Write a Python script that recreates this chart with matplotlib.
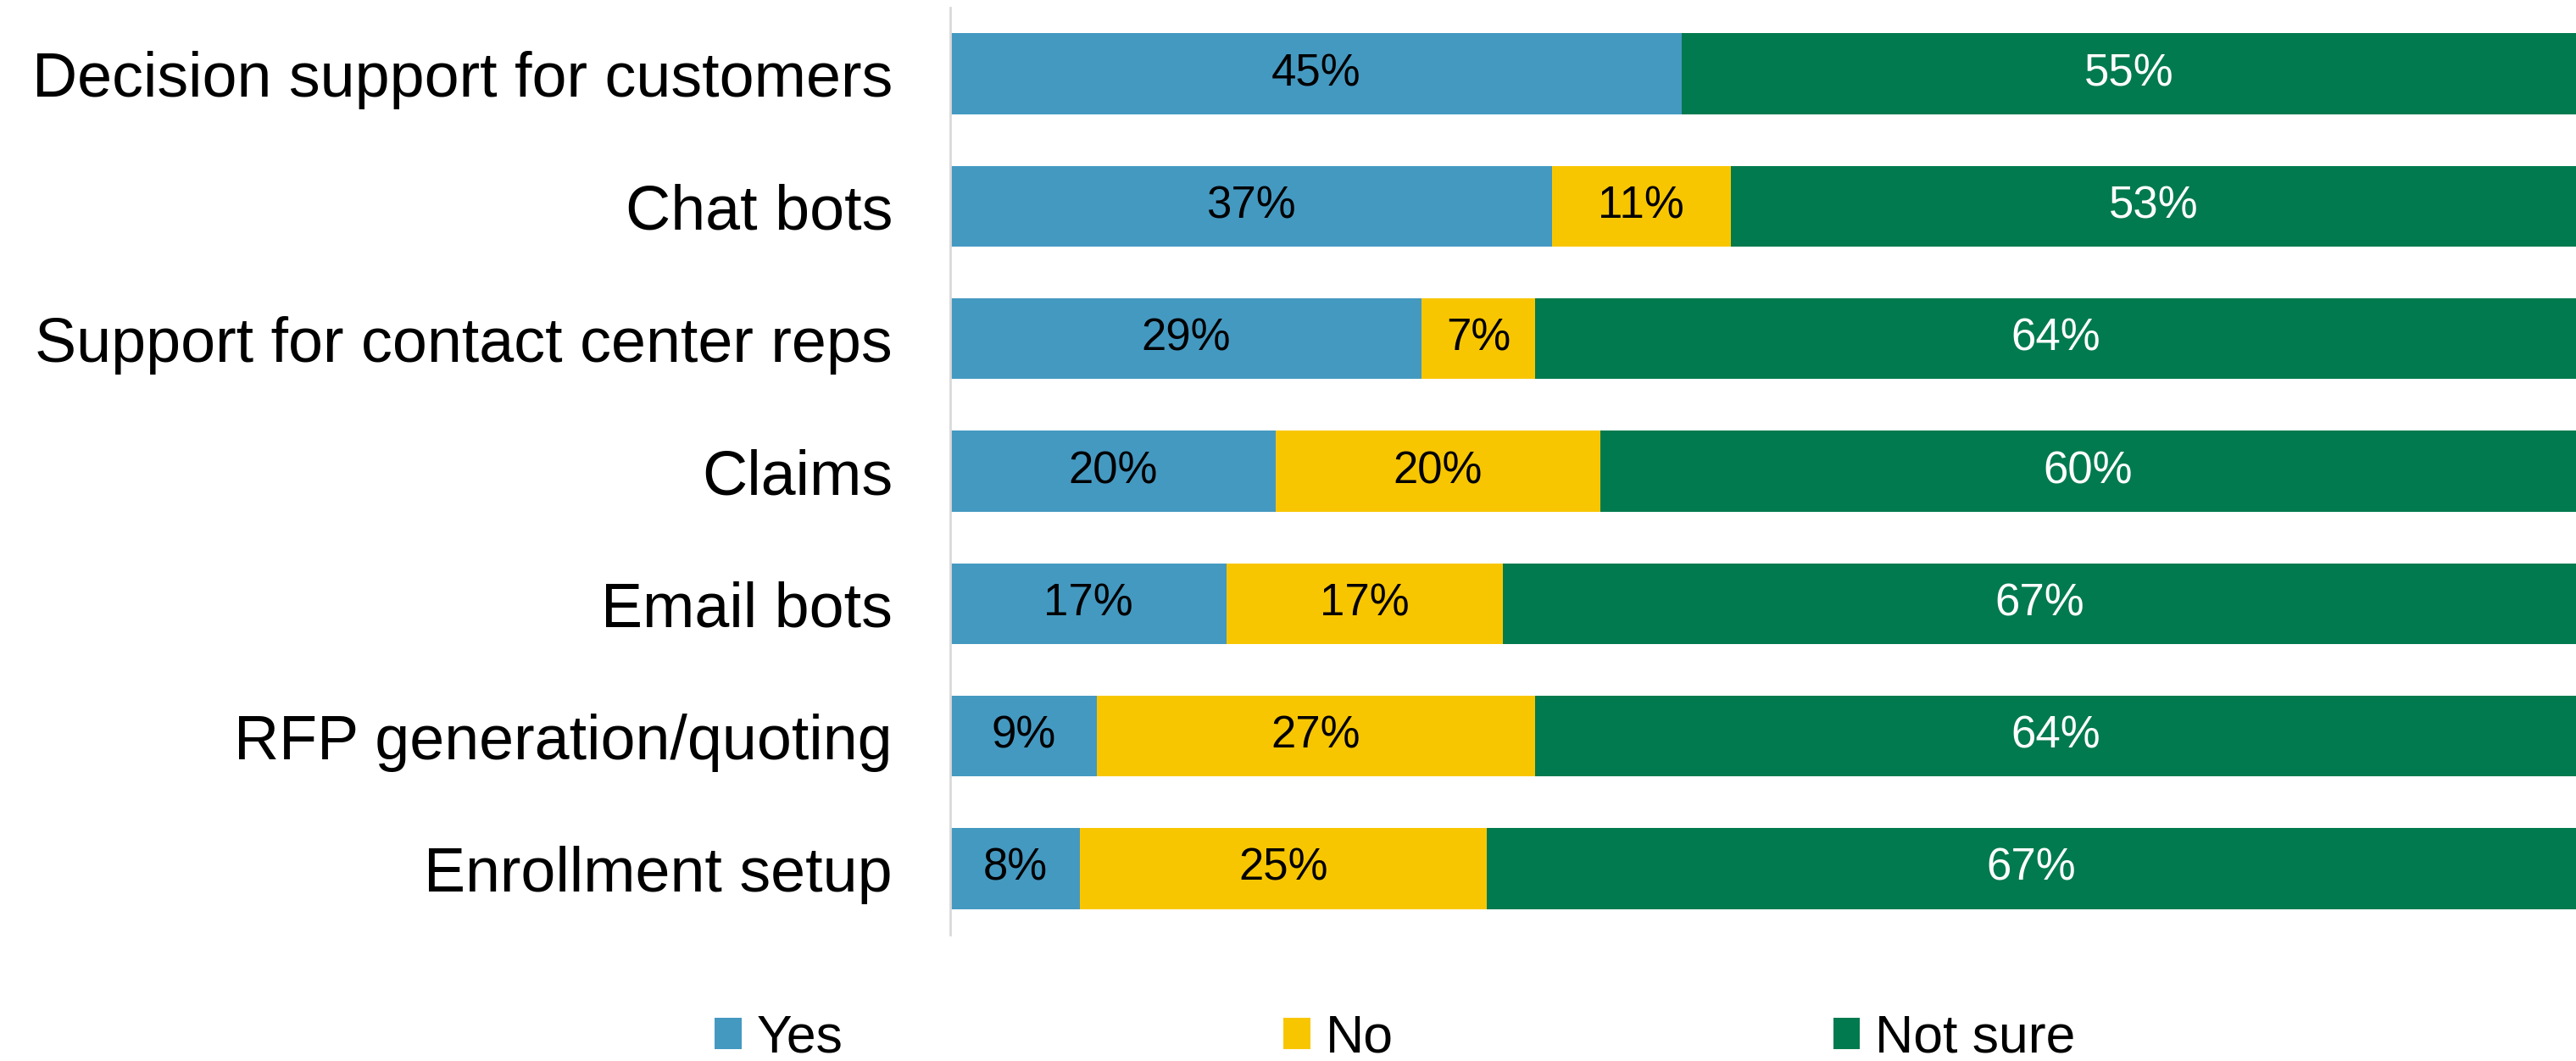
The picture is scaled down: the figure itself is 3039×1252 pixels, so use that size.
import matplotlib
matplotlib.use("Agg")
import matplotlib.pyplot as plt
import numpy as np

plt.rcParams['font.family'] = ['Liberation Sans', 'DejaVu Sans']

categories = [
    "Decision support for customers",
    "Chat bots",
    "Support for contact center reps",
    "Claims",
    "Email bots",
    "RFP generation/quoting",
    "Enrollment setup",
]
yes_vals = [45, 37, 29, 20, 17, 9, 8]
no_vals = [0, 11, 7, 20, 17, 27, 25]
notsure_vals = [55, 53, 64, 60, 67, 64, 67]

series_names = ["Yes", "No", "Not sure"]
series_colors = ["#4499C1", "#F8C600", "#007A4E"]
label_colors = ["black", "black", "white"]

W, H = 3039, 1252
fig = plt.figure(figsize=(W / 100, H / 100), dpi=100)
ax = fig.add_axes([1121 / W, 1 - 1103 / H, 1 - 1121 / W, (1103 - 9) / H])

y = np.arange(len(categories))
left = np.zeros(len(categories))
for name, vals, col, lcol in zip(series_names, [yes_vals, no_vals, notsure_vals],
                                 series_colors, label_colors):
    vals = np.array(vals, dtype=float)
    ax.barh(y, vals, left=left, height=0.61, color=col, label=name, edgecolor='none')
    for yi, l, v in zip(y, left, vals):
        if v > 0:
            # centre the label on the visible part of the segment
            xc = l + min(v, 100 - l) / 2
            ax.text(xc, yi, f"{int(v)}%", ha='center', va='center',
                    fontsize=38, color=lcol)
    left += vals

ax.set_xlim(0, 100)
ax.set_ylim(len(categories) - 0.5, -0.5)
ax.set_yticks(y)
ax.set_yticklabels(categories, fontsize=53)
ax.tick_params(axis='y', length=0, pad=49)
ax.set_xticks([])
for side in ['top', 'right', 'bottom']:
    ax.spines[side].set_visible(False)
ax.spines['left'].set_color('#D9D9D9')
ax.spines['left'].set_linewidth(2)

fig.legend(loc='center', bbox_to_anchor=(1646 / W, 1 - 1225 / H), ncol=3,
           frameon=False, fontsize=45, handlelength=0.51, handleheight=0.53,
           handletextpad=0.29, columnspacing=8.3, borderpad=0, borderaxespad=0)

fig.savefig("out.png", dpi=100)
